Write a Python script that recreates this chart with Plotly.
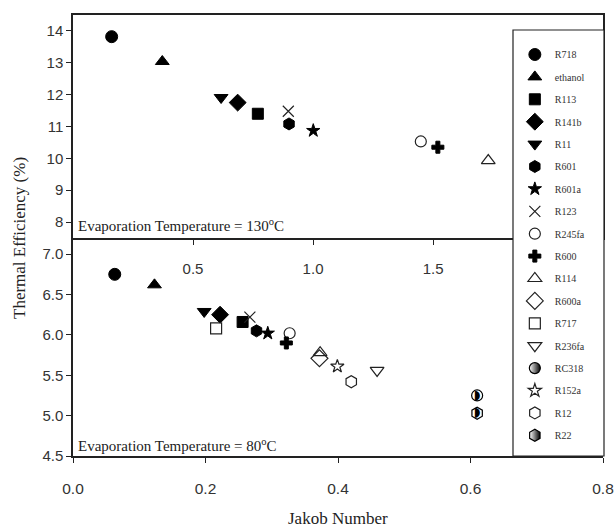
import plotly.graph_objects as go

refrigerants = ["R718", "ethanol", "R113", "R141b", "R11", "R601", "R601a", "R123",
                "R245fa", "R600", "R114", "R600a", "R717", "R236fa", "RC318",
                "R152a", "R12", "R22"]
# Evaporation temperature 130 C (upper panel)
top_jakob = [0.161, 0.372, 0.770, 0.686, 0.617, 0.900, 1.001, 0.897,
             1.449, 1.520, 1.730, None, None, None, None, None, None, None]
top_eff = [13.82, 13.04, 11.40, 11.75, 11.91, 11.08, 10.87, 11.48,
           10.53, 10.35, 9.93, None, None, None, None, None, None, None]
# Evaporation temperature 80 C (lower panel)
bot_jakob = [0.063, 0.123, 0.256, 0.222, 0.198, 0.277, 0.294, 0.267,
             0.327, 0.322, 0.373, 0.372, 0.216, 0.459, 0.610, 0.399, 0.420, 0.610]
bot_eff = [6.75, 6.62, 6.16, 6.25, 6.29, 6.05, 6.02, 6.22,
           6.02, 5.90, 5.78, 5.71, 6.08, 5.56, 5.25, 5.61, 5.42, 5.03]

top_xticks = [0.5, 1.0, 1.5]
top_yticks = [8, 9, 10, 11, 12, 13, 14]
bot_xticks = [0.0, 0.2, 0.4, 0.6, 0.8]
bot_yticks = [4.5, 5.0, 5.5, 6.0, 6.5, 7.0]

symbols = ["circle", "triangle-up", "square", "diamond", "triangle-down", "hexagon",
           "star", "x-thin-open", "circle-open", "cross", "triangle-up-open",
           "diamond-open", "square-open", "triangle-down-open", "circle",
           "star-open", "hexagon-open", "hexagon"]
sizes = [12, 12, 11, 13, 12, 12, 10, 11, 11, 10, 12, 13, 11, 12, 11, 10, 12, 12]
half = {"RC318", "R22"}

SERIF = "Times New Roman, Liberation Serif, DejaVu Serif, serif"
SANS = "Arial, Liberation Sans, Helvetica, sans-serif"

W, H = 614, 527
xl, xr = 73 / W, 603 / W
ytop = (H - 15) / H
ymid = (H - 238) / H
ybot = (H - 456) / H

fig = go.Figure()
for i, name in enumerate(refrigerants):
    sym = symbols[i]
    s = sizes[i]
    if name in half:
        legmk = dict(symbol=sym, size=s, color="white",
                     gradient=dict(type="horizontal", color="black"),
                     line=dict(color="black", width=1.2))
        mk = dict(symbol=sym, size=s, color="white", line=dict(color="black", width=1.2))
        # legend-only entry
        fig.add_trace(go.Scatter(x=[None], y=[None], mode="markers", marker=legmk,
                                 name=name, legendgroup=name, showlegend=True,
                                 xaxis="x2", yaxis="y2"))
        fig.add_trace(go.Scatter(x=[bot_jakob[i]], y=[bot_eff[i]], mode="markers",
                                 marker=mk, name=name, legendgroup=name,
                                 showlegend=False, xaxis="x2", yaxis="y2"))
        fig.add_trace(go.Scatter(x=[bot_jakob[i]], y=[bot_eff[i]], mode="text",
                                 text=["\u25D7"], textposition="middle center",
                                 textfont=dict(family="DejaVu Sans", size=13, color="black"),
                                 name=name, legendgroup=name, showlegend=False,
                                 hoverinfo="skip", xaxis="x2", yaxis="y2"))
        continue
    if sym.endswith("open"):
        mk = dict(symbol=sym, size=s, color="#222", line=dict(color="#222", width=1.2))
    else:
        mk = dict(symbol=sym, size=s, color="black", line=dict(color="black", width=1.0))
    if top_jakob[i] is not None:
        fig.add_trace(go.Scatter(x=[top_jakob[i]], y=[top_eff[i]], mode="markers",
                                 marker=mk, name=name, legendgroup=name,
                                 showlegend=False, xaxis="x", yaxis="y"))
    fig.add_trace(go.Scatter(x=[bot_jakob[i]], y=[bot_eff[i]], mode="markers",
                             marker=mk, name=name, legendgroup=name,
                             showlegend=True, xaxis="x2", yaxis="y2"))

axis_common = dict(showline=True, linecolor="#222", linewidth=1.5, ticks="outside",
                   ticklen=5, tickwidth=1.2, tickcolor="#222", showgrid=False,
                   zeroline=False, automargin=False, ticklabeloverflow="allow")
tf = dict(family=SANS, size=15, color="#333")

fig.update_layout(
    width=W, height=H, margin=dict(l=0, r=0, t=0, b=0, autoexpand=False),
    paper_bgcolor="white", plot_bgcolor="white",
    xaxis=dict(domain=[xl, xr], anchor="y", range=[0, 2.208], tickvals=top_xticks,
               tickformat=".1f", mirror=True, ticklabelstandoff=11, tickfont=tf,
               **axis_common),
    yaxis=dict(domain=[ymid, ytop], anchor="x", range=[7.5, 14.5], tickvals=top_yticks,
               mirror=True, tickfont=tf, **axis_common),
    xaxis2=dict(domain=[xl, xr], anchor="y2", range=[0, 0.8], tickvals=bot_xticks,
                tickformat=".1f", ticklabelstandoff=13,
                tickfont=dict(family=SANS, size=15.5, color="#333"), **axis_common),
    yaxis2=dict(domain=[ybot, ymid], anchor="x2", range=[4.5, 7.2], tickvals=bot_yticks,
                tickformat=".1f", tickfont=tf, **axis_common),
    legend=dict(x=513 / W + 0.003, y=(H - 40) / H, xanchor="left", yanchor="top",
                bgcolor="rgba(0,0,0,0)", borderwidth=0, tracegroupgap=3.4,
                font=dict(family=SERIF, size=10, color="#333"),
                traceorder="grouped"),
    shapes=[dict(type="rect", xref="paper", yref="paper", x0=513 / W, x1=604 / W,
                 y0=ybot, y1=(H - 30) / H, fillcolor="white",
                 line=dict(color="#222", width=1.2), layer="above")],
    annotations=[
        dict(text="Evaporation Temperature = 130<sup>o</sup>C", xref="paper", yref="paper",
             x=76 / W, y=(H - 225) / H, xanchor="left", yanchor="middle", showarrow=False,
             font=dict(family=SERIF, size=15, color="#222")),
        dict(text="Evaporation Temperature = 80<sup>o</sup>C", xref="paper", yref="paper",
             x=76 / W, y=(H - 445) / H, xanchor="left", yanchor="middle", showarrow=False,
             font=dict(family=SERIF, size=15, color="#222")),
        dict(text="Jakob Number", xref="paper", yref="paper",
             x=338 / W, y=(H - 518) / H, xanchor="center", yanchor="middle", showarrow=False,
             font=dict(family=SERIF, size=17, color="#222")),
        dict(text="Thermal Efficiency (%)", xref="paper", yref="paper", textangle=-90,
             x=19 / W, y=(H - 238) / H, xanchor="center", yanchor="middle", showarrow=False,
             font=dict(family=SERIF, size=17, color="#222")),
    ],
)

fig.write_html("out.html")
